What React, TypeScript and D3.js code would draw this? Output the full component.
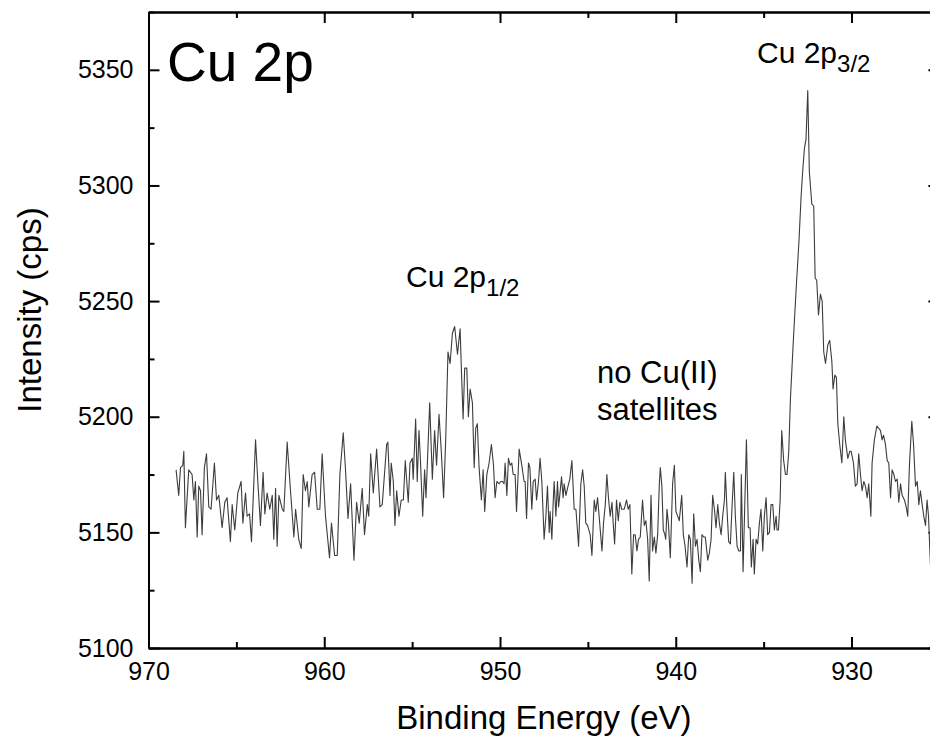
import React, { useEffect, useRef } from "react";
import * as d3 from "d3";

// Cu 2p region
const bindingEnergy: number[] = [
  968.43, 968.28, 968.18, 968.05, 967.99, 967.9, 967.71, 967.52, 967.42, 967.33,
  967.23, 967.14, 967.04, 966.95, 966.82, 966.7, 966.57, 966.44, 966.25, 966.13,
  966.0, 965.81, 965.66, 965.53, 965.34, 965.24, 965.09, 964.92, 964.73, 964.63,
  964.48, 964.39, 964.25, 964.14, 963.91, 963.78, 963.63, 963.48, 963.38, 963.25,
  963.1, 962.96, 962.87, 962.77, 962.68, 962.58, 962.39, 962.3, 962.11, 961.92,
  961.73, 961.63, 961.45, 961.31, 961.2, 961.07, 960.97, 960.88, 960.69, 960.55,
  960.4, 960.25, 960.12, 959.93, 959.7, 959.59, 959.41, 959.26, 959.11, 958.92,
  958.79, 958.65, 958.5, 958.31, 958.16, 958.01, 957.84, 957.71, 957.55, 957.47,
  957.36, 957.21, 957.02, 956.83, 956.7, 956.45, 956.38, 956.26, 956.19, 956.07,
  955.98, 955.88, 955.75, 955.62, 955.5, 955.39, 955.22, 955.12, 954.99, 954.94,
  954.8, 954.71, 954.61, 954.52, 954.4, 954.29, 954.21, 954.0, 953.85, 953.72,
  953.61, 953.47, 953.34, 953.21, 953.09, 952.96, 952.84, 952.71, 952.58, 952.42,
  952.27, 952.2, 952.1, 952.01, 951.89, 951.8, 951.7, 951.57, 951.47, 951.38,
  951.29, 951.19, 951.06, 950.96, 950.87, 950.75, 950.62, 950.49, 950.37, 950.28,
  950.18, 950.05, 949.96, 949.86, 949.77, 949.71, 949.61, 949.52, 949.42, 949.33,
  949.25, 949.14, 949.06, 948.91, 948.76, 948.63, 948.57, 948.49, 948.38, 948.3,
  948.19, 948.11, 948.0, 947.92, 947.81, 947.72, 947.62, 947.49, 947.39, 947.3,
  947.2, 947.15, 947.05, 946.98, 946.92, 946.82, 946.73, 946.67, 946.6, 946.5,
  946.41, 946.35, 946.25, 946.16, 946.03, 945.91, 945.78, 945.68, 945.53, 945.4,
  945.3, 945.21, 945.12, 945.02, 944.87, 944.77, 944.64, 944.55, 944.45, 944.36,
  944.2, 944.11, 944.01, 943.92, 943.83, 943.73, 943.63, 943.56, 943.48, 943.37,
  943.27, 943.18, 943.07, 942.93, 942.8, 942.71, 942.61, 942.5, 942.4, 942.31,
  942.21, 942.12, 942.02, 941.89, 941.79, 941.7, 941.6, 941.51, 941.41, 941.32,
  941.22, 941.13, 941.03, 940.94, 940.88, 940.79, 940.71, 940.62, 940.57, 940.5,
  940.42, 940.31, 940.18, 940.08, 939.99, 939.89, 939.8, 939.66, 939.57, 939.47,
  939.36, 939.26, 939.17, 939.07, 938.98, 938.88, 938.79, 938.69, 938.6, 938.51,
  938.41, 938.32, 938.18, 938.09, 937.99, 937.9, 937.8, 937.71, 937.61, 937.52,
  937.42, 937.33, 937.23, 937.18, 937.08, 936.99, 936.89, 936.8, 936.7, 936.61,
  936.51, 936.42, 936.32, 936.27, 936.17, 936.08, 935.98, 935.87, 935.77, 935.7,
  935.6, 935.53, 935.43, 935.34, 935.24, 935.15, 935.05, 934.96, 934.86, 934.77,
  934.67, 934.58, 934.48, 934.39, 934.29, 934.24, 934.16, 934.06, 933.97, 933.86,
  933.76, 933.67, 933.57, 933.48, 933.33, 933.16, 932.99, 932.87, 932.78, 932.68,
  932.59, 932.49, 932.4, 932.26, 932.15, 932.07, 931.98, 931.88, 931.77, 931.67,
  931.58, 931.48, 931.35, 931.24, 931.12, 931.05, 930.95, 930.86, 930.78, 930.67,
  930.55, 930.44, 930.35, 930.21, 930.1, 930.02, 929.89, 929.78, 929.68, 929.59,
  929.49, 929.4, 929.3, 929.21, 929.11, 929.02, 928.9, 928.83, 928.7, 928.56,
  928.45, 928.35, 928.26, 928.18, 928.07, 927.97, 927.88, 927.78, 927.69, 927.59,
  927.5, 927.4, 927.31, 927.21, 927.12, 926.99, 926.89, 926.8, 926.7, 926.57,
  926.47, 926.36, 926.26, 926.17, 926.08, 925.98, 925.89, 925.79, 925.7, 925.62,
  925.51, 925.47, 925.3,
];

const intensity: number[] = [
  5177, 5166, 5178, 5179, 5185, 5152, 5177, 5175, 5164, 5172,
  5148, 5170, 5168, 5149, 5178, 5184, 5161, 5160, 5180, 5164,
  5166, 5152, 5163, 5165, 5146, 5162, 5151, 5167, 5172, 5154,
  5167, 5157, 5158, 5146, 5190, 5172, 5153, 5176, 5158, 5167,
  5160, 5166, 5147, 5169, 5144, 5166, 5160, 5159, 5189, 5168,
  5148, 5160, 5147, 5143, 5175, 5168, 5172, 5161, 5175, 5176,
  5160, 5160, 5184, 5157, 5139, 5154, 5140, 5140, 5175, 5193,
  5177, 5156, 5171, 5138, 5163, 5154, 5169, 5149, 5162, 5157,
  5184, 5167, 5186, 5161, 5162, 5188, 5189, 5166, 5180, 5172,
  5153, 5168, 5157, 5164, 5164, 5181, 5163, 5180, 5182, 5173,
  5199, 5172, 5194, 5180, 5157, 5177, 5165, 5206, 5173, 5194,
  5179, 5201, 5185, 5165, 5190, 5228, 5223, 5236, 5239, 5227,
  5238, 5221, 5199, 5221, 5221, 5200, 5212, 5206, 5178, 5195,
  5197, 5178, 5164, 5177, 5159, 5175, 5180, 5188, 5179, 5165,
  5172, 5171, 5172, 5172, 5171, 5180, 5166, 5182, 5179, 5180,
  5175, 5175, 5159, 5186, 5179, 5172, 5172, 5156, 5180, 5178,
  5160, 5172, 5173, 5164, 5172, 5182, 5172, 5147, 5157, 5170,
  5150, 5159, 5147, 5162, 5172, 5157, 5172, 5161, 5166, 5174,
  5165, 5171, 5166, 5169, 5173, 5181, 5160, 5160, 5144, 5171,
  5177, 5170, 5154, 5153, 5149, 5140, 5164, 5159, 5165, 5157,
  5142, 5154, 5162, 5175, 5165, 5157, 5163, 5154, 5145, 5164,
  5155, 5163, 5160, 5160, 5164, 5160, 5162, 5132, 5149, 5149,
  5142, 5147, 5148, 5164, 5153, 5155, 5147, 5129, 5166, 5142,
  5148, 5141, 5149, 5170, 5178, 5170, 5151, 5149, 5147, 5160,
  5154, 5139, 5171, 5179, 5159, 5157, 5155, 5166, 5149, 5144,
  5135, 5149, 5147, 5128, 5158, 5144, 5147, 5138, 5133, 5149,
  5148, 5148, 5138, 5141, 5147, 5166, 5160, 5152, 5162, 5154,
  5149, 5157, 5164, 5176, 5159, 5146, 5145, 5161, 5176, 5157,
  5144, 5142, 5142, 5175, 5133, 5160, 5190, 5152, 5152, 5135,
  5147, 5132, 5147, 5145, 5154, 5160, 5142, 5157, 5165, 5149,
  5150, 5162, 5162, 5151, 5157, 5151, 5151, 5164, 5194, 5181,
  5175, 5175, 5185, 5207, 5230, 5254, 5276, 5295, 5306, 5316,
  5320, 5341, 5306, 5292, 5291, 5260, 5259, 5244, 5253, 5250,
  5228, 5223, 5231, 5233, 5224, 5212, 5218, 5217, 5197, 5188,
  5180, 5200, 5190, 5182, 5185, 5185, 5180, 5170, 5171, 5184,
  5175, 5168, 5172, 5170, 5165, 5171, 5157, 5180, 5190, 5196,
  5195, 5194, 5190, 5192, 5188, 5181, 5180, 5165, 5177, 5175,
  5172, 5173, 5163, 5171, 5166, 5164, 5161, 5157, 5180, 5198,
  5188, 5170, 5172, 5162, 5168, 5162, 5157, 5153, 5164, 5157,
  5136, 5145, 5125,
];

const xMajorTicks = [970, 960, 950, 940, 930];
const xMinorTicks = [965, 955, 945, 935, 925];
const yMajorTicks = [5100, 5150, 5200, 5250, 5300, 5350];
const yMinorTicks = [5125, 5175, 5225, 5275, 5325, 5375];

const FONT = "'Liberation Sans', Arial, Helvetica, sans-serif";

const App: React.FC = () => {
  const ref = useRef<SVGSVGElement>(null);

  useEffect(() => {
    const left = 148.5, right = 939.4, top = 12, bottom = 648;

    const x = d3.scaleLinear().domain([970, 925]).range([left, right]);
    const y = d3.scaleLinear().domain([5100, 5375]).range([bottom, top]);

    const svg = d3.select(ref.current);
    svg.selectAll("*").remove();

    const styleAxis = (g: any, labelSize = 25) => {
      g.attr("font-family", FONT).attr("font-size", labelSize);
      g.select(".domain").attr("stroke", "#000").attr("stroke-width", 2);
      g.selectAll(".tick line").attr("stroke", "#000").attr("stroke-width", 2);
      g.selectAll(".tick text").attr("fill", "#000");
    };

    // bottom
    svg.append("g")
      .attr("transform", `translate(0,${bottom})`)
      .call(d3.axisBottom(x).tickValues(xMajorTicks).tickSizeInner(-11).tickSizeOuter(0).tickPadding(14).tickFormat(d3.format("d")))
      .call(styleAxis);
    svg.append("g")
      .attr("transform", `translate(0,${bottom})`)
      .call(d3.axisBottom(x).tickValues(xMinorTicks).tickSizeInner(-6).tickSizeOuter(0).tickFormat(() => ""))
      .call(styleAxis);

    // top
    svg.append("g")
      .attr("transform", `translate(0,${top})`)
      .call(d3.axisTop(x).tickValues(xMajorTicks).tickSizeInner(-11).tickSizeOuter(0).tickFormat(() => ""))
      .call(styleAxis);
    svg.append("g")
      .attr("transform", `translate(0,${top})`)
      .call(d3.axisTop(x).tickValues(xMinorTicks).tickSizeInner(-6).tickSizeOuter(0).tickFormat(() => ""))
      .call(styleAxis);

    // left
    svg.append("g")
      .attr("transform", `translate(${left},0)`)
      .call(d3.axisLeft(y).tickValues(yMajorTicks).tickSizeInner(-11).tickSizeOuter(0).tickPadding(15).tickFormat(d3.format("d")))
      .call(styleAxis);
    svg.append("g")
      .attr("transform", `translate(${left},0)`)
      .call(d3.axisLeft(y).tickValues(yMinorTicks).tickSizeInner(-6).tickSizeOuter(0).tickFormat(() => ""))
      .call(styleAxis);

    // right
    svg.append("g")
      .attr("transform", `translate(${right},0)`)
      .call(d3.axisRight(y).tickValues(yMajorTicks).tickSizeInner(-11).tickSizeOuter(0).tickFormat(() => ""))
      .call(styleAxis);
    svg.append("g")
      .attr("transform", `translate(${right},0)`)
      .call(d3.axisRight(y).tickValues(yMinorTicks).tickSizeInner(-6).tickSizeOuter(0).tickFormat(() => ""))
      .call(styleAxis);

    // spectrum
    const line = d3.line<number>()
      .x((_, i) => x(bindingEnergy[i]))
      .y(d => y(d));

    svg.append("path")
      .datum(intensity)
      .attr("fill", "none")
      .attr("stroke", "#3c3c3c")
      .attr("stroke-width", 1.1)
      .attr("stroke-linejoin", "round")
      .attr("d", line);

    // axis titles
    svg.append("text")
      .attr("x", (left + right) / 2)
      .attr("y", 729)
      .attr("text-anchor", "middle")
      .attr("font-family", FONT)
      .attr("font-size", 33)
      .text("Binding Energy (eV)");

    svg.append("text")
      .attr("transform", "translate(41,310) rotate(-90)")
      .attr("text-anchor", "middle")
      .attr("font-family", FONT)
      .attr("font-size", 33)
      .text("Intensity (cps)");

    // annotations
    const note = svg.append("g").attr("font-family", FONT).attr("fill", "#000");

    note.append("text").attr("x", 167).attr("y", 81).attr("font-size", 55).text("Cu 2p");

    const p32 = note.append("text").attr("x", 757).attr("y", 63).attr("font-size", 30);
    p32.append("tspan").text("Cu 2p");
    p32.append("tspan").attr("font-size", 24).attr("dy", 9).text("3/2");

    const p12 = note.append("text").attr("x", 406).attr("y", 287).attr("font-size", 30);
    p12.append("tspan").text("Cu 2p");
    p12.append("tspan").attr("font-size", 24).attr("dy", 9).text("1/2");

    note.append("text").attr("x", 597).attr("y", 383).attr("font-size", 31).text("no Cu(II)");
    note.append("text").attr("x", 597).attr("y", 420).attr("font-size", 31).text("satellites");
  }, []);

  return (
    <svg
      ref={ref}
      width={930}
      height={742}
      style={{ position: "absolute", left: 0, top: 0, background: "#fff" }}
    />
  );
};

export default App;
